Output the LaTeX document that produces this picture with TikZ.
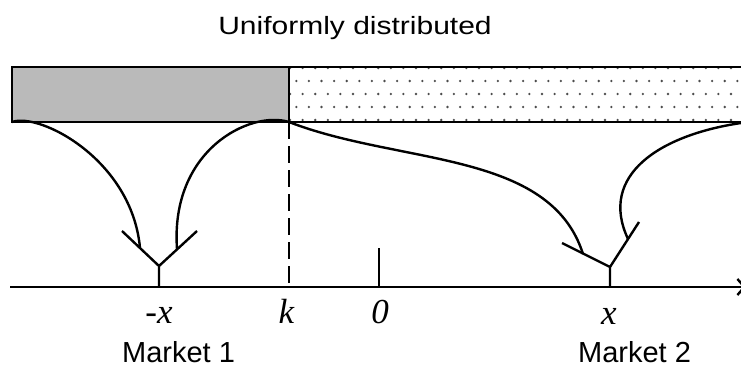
\documentclass[tikz,border=0pt]{standalone}
\usepackage{fontspec}
\setmainfont{Liberation Serif}
\newfontfamily\gothic{Liberation Sans}
\usetikzlibrary{arrows.meta}
\begin{document}
\begin{tikzpicture}[x=1pt,y=-1pt,
  ln/.style={line width=2.4pt},
  curve/.style={line width=2.4pt},
  lbl/.style={font=\fontsize{35}{36}\selectfont\itshape, inner sep=0pt, anchor=base},
  mkt/.style={font=\gothic\fontsize{29}{31}\selectfont, inner sep=0pt, anchor=base},
  ttl/.style={font=\gothic\fontsize{25}{27}\selectfont, inner sep=0pt, anchor=base},
  dotc/.style={fill=black!70}]
\useasboundingbox (0,0) rectangle (741,369);
\clip (0,0) rectangle (741,369);
% boxes
\fill[black!27] (12,67) rectangle (289,122);
\begin{scope}
\clip (289,67) rectangle (745,122);
\foreach \r in {0,...,4}{
  \pgfmathsetmacro{\yy}{68+13*\r}
  \pgfmathsetmacro{\off}{mod(\r,2)*6.3}
  \foreach \i in {0,...,36}{
    \fill[dotc] ({290+\off+12.6*\i},\yy) circle (1.3);
  }
}
\end{scope}
\draw[line width=2.8pt] (12,67) rectangle (289,122);
\draw[line width=2.8pt] (289,67) -- (745,67);
\draw[line width=2.8pt] (289,122) -- (745,122);
% coordinates
\coordinate (kTop) at (289,122);
\coordinate (kBot) at (289,287);
\coordinate (boxL) at (12,122);
\coordinate (boxR) at (741,123);
\coordinate (m1) at (159,287);
\coordinate (m1top) at (159,266);
\coordinate (m1l) at (122,231);
\coordinate (m1r) at (197,231);
\coordinate (m1la) at (140,248);
\coordinate (m1ra) at (177,249);
\coordinate (m2) at (610,287);
\coordinate (m2top) at (610,267);
\coordinate (m2l) at (562,243);
\coordinate (m2r) at (639,222);
\coordinate (m2la) at (583,254);
\coordinate (m2ra) at (628,239);
\coordinate (axL) at (10,287);
\coordinate (axR) at (746,287);
\coordinate (z) at (379,287);
\coordinate (ztop) at (379,248);
% dashed line
\draw[line width=2.4pt, dash pattern=on 17pt off 7pt] (kTop) -- (kBot);
% axis
\draw[ln, -{Straight Barb[length=7pt,width=16pt,line width=2.4pt]}] (axL) -- (axR);
\draw[ln] (z) -- (ztop);
% Y shapes
\draw[ln] (m1) -- (m1top) (m1l) -- (m1top) -- (m1r);
\draw[ln] (m2) -- (m2top) (m2l) -- (m2top) -- (m2r);
% curves
\draw[curve] (boxL) .. controls (40,112) and (132,160) .. (m1la);
\draw[curve] (kTop) .. controls (250,110) and (170,150) .. (m1ra);
\draw[curve] (kTop) .. controls (400,165) and (550,150) .. (m2la);
\draw[curve] (boxR) .. controls (660,135) and (598,175) .. (m2ra);
% labels
\node[ttl] (title) at (355,34.5) {\scalebox{1.2}[1]{Uniformly distributed}};
\node[lbl] (lmx) at (159,323.5) {-x};
\node[lbl] (lk) at (286.5,323.5) {k};
\node[lbl] (l0) at (380,323.5) {0};
\node[lbl] (lx) at (609,324.5) {x};
\node[mkt] (mk1) at (178.5,362) {Market 1};
\node[mkt] (mk2) at (634.5,362) {Market 2};
\end{tikzpicture}
\end{document}
